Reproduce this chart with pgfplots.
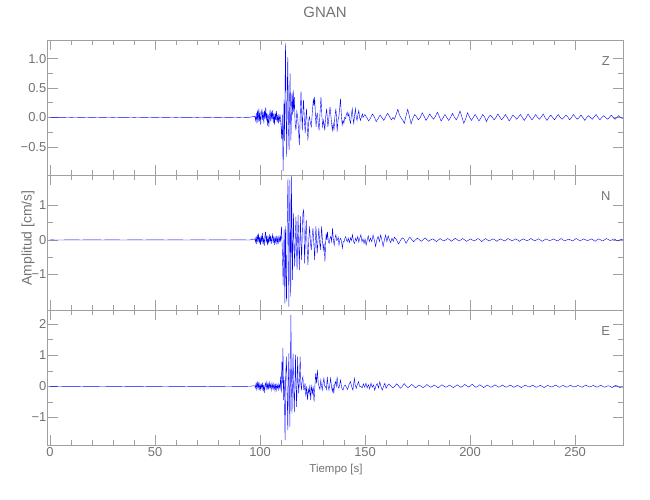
\documentclass[border=0pt]{standalone}
\usepackage{pgfplots}
\pgfplotsset{compat=1.18}
\usepackage{pgfplotstable}
\usepackage{fontspec}
\setmainfont{Liberation Sans}
\definecolor{axgray}{RGB}{160,160,160}
\definecolor{txtgray}{RGB}{115,115,115}

\pgfplotstableread{
t v
0 0
5 0.003
10 -0.002
15 0.002
20 -0.003
25 0.002
30 -0.002
35 0.003
40 -0.002
45 0.002
50 -0.003
55 0.002
60 -0.002
65 0.003
70 -0.002
75 0.002
80 -0.003
85 0.002
90 -0.002
95 0.003
97.5 0.02
97.9 -0.05
98.2 0.08
98.5 -0.10
98.8 0.12
99.1 -0.08
99.4 0.15
99.7 -0.06
100.0 0.10
100.3 -0.12
100.6 0.05
100.9 0.14
101.2 -0.04
101.5 0.09
101.8 -0.10
102.1 0.12
102.4 -0.02
102.7 0.17
103.0 -0.05
103.3 0.08
103.6 -0.14
103.9 0.05
104.2 -0.16
104.5 0.04
104.8 0.13
105.1 -0.07
105.4 0.10
105.7 -0.03
106.0 0.12
106.3 -0.09
106.6 0.06
106.9 -0.12
107.2 0.08
107.5 -0.04
107.8 0.11
108.1 -0.08
108.4 0.04
108.7 -0.10
109.0 0.06
109.3 -0.05
109.6 0.02
110.0 -0.15
110.3 -0.36
110.6 0.05
111.0 -0.91
111.4 0.30
111.7 -0.40
112.1 1.27
112.4 0.2
112.7 -0.67
113.0 0.6
113.2 1.03
113.5 -0.1
113.8 -0.56
114.0 0.2
114.3 0.75
114.5 0.1
114.7 -0.39
115.0 0.2
115.2 0.41
115.5 0.05
115.8 0.47
116.0 0.1
116.3 0.35
116.7 -0.1
117.1 -0.22
117.5 0.1
117.9 0.01
118.3 -0.2
118.7 -0.47
119.1 0.0
119.5 0.45
119.8 0.1
120.1 -0.22
120.4 0.1
120.7 0.30
121.1 -0.05
121.5 -0.27
121.8 0.0
122.1 0.15
122.5 -0.2
122.8 -0.39
123.2 -0.05
123.5 0.01
124.0 -0.10
124.4 -0.16
124.9 0.1
125.4 0.32
125.7 0.2
126.0 0.35
126.4 0.0
126.7 -0.16
127.0 0.05
127.3 0.07
127.7 -0.1
128.1 -0.22
128.5 0.05
129.0 0.35
129.4 0.05
129.8 -0.16
130.3 -0.05
130.8 -0.22
131.2 0.0
131.7 0.15
132.0 0.0
132.3 -0.16
132.8 0.0
133.3 0.18
133.8 0.0
134.4 -0.22
134.8 -0.1
135.2 -0.22
135.6 0.0
136.1 0.15
136.4 0.0
136.7 -0.24
137.1 -0.05
137.5 0.01
137.9 0.15
138.3 0.32
138.7 0.05
139.1 -0.13
139.5 -0.05
139.9 -0.10
140.3 0.0
140.7 -0.02
141.1 0.05
141.5 0.09
141.9 0.02
142.3 0.07
142.7 -0.05
143.1 -0.10
143.5 0.05
143.9 0.15
144.3 -0.02
144.6 -0.10
145.0 0.03
145.4 0.15
145.8 0.0
146.2 -0.05
146.6 0.05
147.0 0.12
147.4 0.0
147.8 -0.05
148.3 0.02
148.8 0.06
149.0 0.00
149.9 0.05
150.8 0.00
151.7 -0.06
152.6 -0.01
153.5 0.06
154.4 0.01
155.3 -0.07
156.2 -0.02
157.1 0.04
158.0 0.00
158.9 -0.05
159.8 0.01
160.7 0.07
161.6 0.02
162.5 -0.04
163.3 0.00
164.0 -0.03
164.8 0.05
165.6 0.14
166.4 0.04
167.2 -0.01
168.0 -0.05
168.7 -0.10
169.5 0.03
170.3 0.14
171.1 0.02
171.9 -0.11
172.7 -0.02
173.6 0.05
174.5 0.01
175.4 -0.04
176.3 0.00
177.2 0.08
178.1 0.02
179.0 -0.05
179.9 0.00
180.8 0.06
181.7 0.01
182.6 -0.03
183.5 0.02
184.4 0.09
185.3 0.02
186.2 -0.06
187.1 -0.01
188.0 0.05
188.9 0.00
189.8 -0.05
190.7 0.00
191.6 0.07
192.5 0.01
193.4 -0.04
194.3 0.02
195.2 0.11
196.1 0.01
197.0 -0.10
197.9 -0.02
198.8 0.08
199.7 0.01
200.6 -0.05
201.5 0.00
202.4 0.05
203.3 0.00
204.2 -0.06
205.1 -0.01
206.0 0.05
206.9 0.01
207.8 -0.07
208.7 0.00
209.6 0.04
210.5 0.01
211.4 -0.04
212.3 0.00
213.2 0.06
214.1 0.01
215.0 -0.04
215.9 0.00
216.8 0.05
217.7 0.00
218.6 -0.06
219.5 -0.01
220.4 0.04
221.3 0.01
222.2 -0.03
223.1 0.01
224.0 0.05
224.9 0.00
225.8 -0.05
226.7 0.00
227.6 0.06
228.5 0.01
229.4 -0.04
230.3 0.00
231.2 0.05
232.1 0.00
233.0 -0.03
233.9 0.01
234.8 0.06
235.7 0.00
236.6 -0.05
237.5 0.00
238.4 0.04
239.3 0.00
240.2 -0.04
241.1 0.01
242.0 0.05
242.9 0.00
243.8 -0.03
244.7 0.00
245.6 0.04
246.5 0.01
247.4 -0.04
248.3 0.00
249.2 0.05
250.1 0.01
251.0 -0.03
251.9 0.00
252.8 0.04
253.7 0.00
254.6 -0.05
255.5 0.00
256.4 0.03
257.3 0.00
258.2 -0.03
259.1 0.01
260.0 0.05
260.9 0.00
261.8 -0.04
262.7 0.00
263.6 0.03
264.5 0.00
265.4 -0.03
266.3 0.00
267.2 0.04
268.1 0.00
269.0 -0.03
269.9 0.00
270.8 0.03
271.7 0.00
272.6 -0.02
}\dataZ

\pgfplotstableread{
t v
0 0
5 -0.003
10 0.002
15 -0.002
20 0.003
25 -0.002
30 0.002
35 -0.003
40 0.002
45 -0.002
50 0.003
55 -0.002
60 0.002
65 -0.003
70 0.002
75 -0.002
80 0.003
85 -0.002
90 0.002
95 -0.003
97.5 0.03
97.8 -0.06
98.1 0.10
98.4 -0.12
98.7 0.15
99.0 -0.05
99.3 0.18
99.6 -0.10
99.9 0.08
100.2 -0.15
100.5 0.12
100.8 -0.06
101.1 0.20
101.4 -0.12
101.7 0.06
102.0 -0.17
102.3 0.10
102.6 0.24
102.9 -0.08
103.2 0.14
103.5 -0.15
103.8 0.05
104.1 -0.10
104.4 0.16
104.7 -0.05
105.0 0.12
105.3 -0.12
105.6 0.04
105.9 0.15
106.2 -0.08
106.5 0.10
106.8 -0.14
107.1 0.06
107.4 -0.06
107.7 0.12
108.0 -0.10
108.3 0.05
108.6 -0.12
108.9 0.08
109.2 -0.04
109.5 0.10
109.8 -0.05
110.2 0.39
110.6 -0.3
111.0 -1.30
111.3 -0.2
111.5 0.3
111.8 -1.84
112.1 0.4
112.4 -1.2
112.6 -1.79
112.9 0.2
113.1 1.11
113.3 1.79
113.5 0.0
113.7 -1.93
113.9 -0.5
114.2 1.74
114.4 0.3
114.6 -1.64
114.8 0.0
115.0 1.84
115.2 0.2
115.4 -1.16
115.6 -0.3
115.9 0.77
116.2 -0.2
116.5 -0.77
116.8 0.1
117.1 0.68
117.3 -0.1
117.6 -0.87
117.9 0.1
118.1 0.72
118.4 -0.1
118.7 -0.87
119.0 0.1
119.2 0.68
119.5 -0.1
119.8 -0.58
120.1 0.2
120.4 0.77
120.8 0.87
121.2 -0.68
121.6 0.1
122.0 0.58
122.4 -0.2
122.8 -0.72
123.2 0.0
123.6 0.39
124.0 -0.1
124.4 -0.29
124.8 0.1
125.2 0.34
125.6 -0.1
126.0 -0.58
126.3 0.0
126.6 0.39
126.9 0.0
127.2 -0.39
127.6 0.0
128.0 0.34
128.3 0.0
128.7 -0.29
129.0 0.0
129.3 0.39
129.7 0.0
130.1 -0.29
130.5 -0.1
130.9 -0.63
131.2 -0.1
131.5 0.19
131.8 0.0
132.1 0.24
132.5 -0.05
132.9 -0.10
133.3 0.05
133.7 0.10
134.1 -0.05
134.5 0.34
134.9 0.0
135.3 -0.15
135.7 0.05
136.1 0.15
136.5 -0.02
136.8 0.00
137.2 0.08
137.6 -0.15
138.0 0.0
138.4 0.05
138.8 -0.05
139.2 -0.24
139.6 -0.05
140.0 -0.05
140.4 0.05
140.8 0.10
141.2 -0.02
141.6 -0.05
142.0 0.05
142.5 -0.08
143.0 0.06
143.5 -0.02
144.0 0.15
144.5 -0.05
145.0 -0.10
145.5 0.05
146.0 -0.03
146.5 0.10
147.0 -0.06
147.5 0.05
148.0 0.15
148.5 -0.05
149.0 0.03
149.5 -0.10
150.0 0.02
150.5 -0.15
151.0 0.0
151.5 0.12
152.0 -0.05
152.6 0.05
153.2 -0.05
153.8 0.14
154.4 0.0
155.0 -0.19
155.6 0.0
156.2 0.10
156.8 -0.05
157.4 0.14
158.0 0.0
158.6 -0.19
159.2 0.0
159.8 0.14
160.4 -0.05
161.0 0.12
161.6 0.0
162.2 -0.08
162.8 0.05
163.4 -0.04
164.0 0.08
165.0 0.00
165.9 -0.12
166.8 -0.02
167.7 0.06
168.6 0.02
169.5 -0.10
170.4 0.00
171.3 0.08
172.2 0.01
173.1 -0.05
174.0 0.00
174.9 0.05
175.8 0.01
176.7 -0.04
177.6 0.00
178.5 0.06
179.4 0.01
180.3 -0.04
181.2 0.00
182.1 0.03
183.0 0.00
183.9 -0.05
184.8 -0.01
185.7 0.04
186.6 0.00
187.5 -0.03
188.4 0.00
189.3 0.04
190.2 0.01
191.1 -0.04
192.0 0.00
192.9 0.05
193.8 0.01
194.7 -0.03
195.6 0.00
196.5 0.04
197.4 0.00
198.3 -0.04
199.2 -0.01
200.1 0.03
201.0 0.00
201.9 -0.03
202.8 0.00
203.7 0.04
204.6 0.01
205.5 -0.05
206.4 0.00
207.3 0.04
208.2 0.00
209.1 -0.03
210.0 0.00
210.9 0.03
211.8 0.00
212.7 -0.04
213.6 0.00
214.5 0.03
215.4 0.00
216.3 -0.03
217.2 0.00
218.1 0.04
219.0 0.01
219.9 -0.03
220.8 0.00
221.7 0.03
222.6 0.00
223.5 -0.04
224.4 0.00
225.3 0.03
226.2 0.00
227.1 -0.02
228.0 0.00
228.9 0.04
229.8 0.01
230.7 -0.03
231.6 0.00
232.5 0.03
233.4 0.00
234.3 -0.04
235.2 -0.01
236.1 0.03
237.0 0.00
237.9 -0.02
238.8 0.00
239.7 0.03
240.6 0.00
241.5 -0.03
242.4 0.00
243.3 0.04
244.2 0.00
245.1 -0.03
246.0 0.00
246.9 0.02
247.8 0.00
248.7 -0.03
249.6 0.00
250.5 0.04
251.4 0.01
252.3 -0.03
253.2 0.00
254.1 0.03
255.0 0.00
255.9 -0.02
256.8 0.00
257.7 0.03
258.6 0.00
259.5 -0.04
260.4 0.00
261.3 0.03
262.2 0.00
263.1 -0.03
264.0 0.00
264.9 0.04
265.8 0.01
266.7 -0.02
267.6 0.00
268.5 0.03
269.4 0.00
270.3 -0.03
271.2 0.00
272.1 0.02
272.7 0.00
}\dataN

\pgfplotstableread{
t v
0 0
5 0.002
10 -0.003
15 0.002
20 -0.002
25 0.003
30 -0.002
35 0.002
40 -0.003
45 0.002
50 -0.002
55 0.003
60 -0.002
65 0.002
70 -0.003
75 0.002
80 -0.002
85 0.003
90 -0.002
95 0.002
97.5 0.02
97.8 -0.05
98.1 0.10
98.4 -0.08
98.7 0.15
99.0 -0.06
99.3 0.10
99.6 -0.12
99.9 0.08
100.2 -0.10
100.5 0.06
100.8 -0.05
101.1 0.12
101.4 -0.15
101.7 0.05
102.0 -0.22
102.3 0.03
102.6 0.10
102.9 -0.08
103.2 0.12
103.5 -0.06
103.8 0.09
104.1 -0.10
104.4 0.12
104.7 -0.04
105.0 0.06
105.3 -0.12
105.6 0.08
105.9 -0.05
106.2 0.10
106.5 -0.08
106.8 0.04
107.1 -0.14
107.4 0.06
107.7 -0.12
108.0 0.05
108.3 -0.06
108.6 0.08
108.9 -0.10
109.2 0.04
109.5 -0.05
109.8 0.31
110.1 -0.2
110.4 0.80
110.6 0.1
110.9 1.23
111.2 -0.44
111.5 0.2
111.9 -1.73
112.2 0.3
112.5 0.96
112.8 0.2
113.2 -1.41
113.4 -0.2
113.7 1.06
113.9 0.1
114.2 -1.30
114.4 0.0
114.7 2.30
114.9 0.3
115.2 -0.87
115.4 0.0
115.7 1.06
116.0 0.0
116.3 -0.82
116.6 0.1
116.9 1.01
117.1 0.1
117.4 -0.66
117.6 0.0
117.9 0.96
118.1 0.2
118.4 -0.23
118.8 0.3
119.1 0.96
119.4 0.1
119.7 -0.12
120.0 0.2
120.4 0.31
120.7 -0.1
121.0 -0.12
121.4 0.1
121.8 -0.33
122.2 0.0
122.6 -0.44
123.0 -0.1
123.4 -0.23
123.7 0.05
124.1 -0.44
124.5 0.0
125.0 -0.23
125.3 0.0
125.7 -0.49
126.1 0.0
126.5 0.42
126.9 0.1
127.3 0.53
127.7 0.1
128.1 -0.01
128.5 -0.1
128.9 0.20
129.3 0.0
129.6 -0.12
130.0 0.1
130.4 0.26
130.8 0.0
131.2 -0.01
131.6 -0.1
132.0 0.31
132.4 0.0
132.8 -0.12
133.2 0.05
133.6 0.26
134.0 0.0
134.4 -0.17
134.8 0.0
135.1 -0.23
135.5 0.05
135.9 0.15
136.3 0.0
136.7 0.31
137.1 0.0
137.5 -0.06
137.9 0.05
138.3 0.20
138.9 -0.05
139.5 -0.12
140.0 0.0
140.6 0.04
141.1 -0.03
141.7 -0.10
142.3 0.05
143.0 0.15
143.6 0.0
144.2 -0.12
144.9 0.26
145.3 0.05
145.8 -0.06
146.3 0.05
146.9 0.15
147.4 0.0
148.0 0.0
148.6 -0.05
149.2 0.08
149.8 -0.03
150.4 0.10
151.0 -0.05
151.6 0.05
152.2 -0.08
152.8 0.10
153.4 -0.03
154.0 0.05
154.6 -0.12
155.2 0.02
155.8 0.09
156.4 -0.05
157.0 0.15
157.6 -0.02
158.2 -0.12
158.8 0.0
159.4 0.10
160.0 -0.06
160.6 0.02
161.4 0.08
162.3 0.01
163.2 -0.05
164.1 0.00
165.0 0.08
165.9 0.02
166.8 -0.06
167.7 0.00
168.6 0.09
169.5 0.01
170.4 -0.04
171.3 0.00
172.2 0.06
173.1 0.01
174.0 -0.05
174.9 0.00
175.8 0.04
176.7 0.00
177.6 -0.04
178.5 0.00
179.4 0.06
180.3 0.01
181.2 -0.03
182.1 0.00
183.0 0.04
183.9 0.00
184.8 -0.05
185.7 0.00
186.6 0.05
187.5 0.01
188.4 -0.03
189.3 0.00
190.2 0.04
191.1 0.00
192.0 -0.04
192.9 0.00
193.8 0.05
194.7 0.01
195.6 -0.03
196.5 0.00
197.4 0.06
198.3 0.02
199.2 -0.02
200.1 0.01
201.0 0.07
201.9 0.01
202.8 -0.03
203.7 0.00
204.6 0.05
205.5 0.01
206.4 -0.04
207.3 0.00
208.2 0.04
209.1 0.00
210.0 -0.03
210.9 0.00
211.8 0.05
212.7 0.01
213.6 -0.03
214.5 0.00
215.4 0.04
216.3 0.00
217.2 -0.03
218.1 0.00
219.0 0.04
219.9 0.01
220.8 -0.03
221.7 0.00
222.6 0.03
223.5 0.00
224.4 -0.04
225.3 0.00
226.2 0.04
227.1 0.01
228.0 -0.02
228.9 0.00
229.8 0.04
230.7 0.00
231.6 -0.03
232.5 0.00
233.4 0.03
234.3 0.00
235.2 -0.04
236.1 0.00
237.0 0.03
237.9 0.00
238.8 -0.02
239.7 0.00
240.6 0.04
241.5 0.01
242.4 -0.03
243.3 0.00
244.2 0.03
245.1 0.00
246.0 -0.03
246.9 0.00
247.8 0.04
248.7 0.00
249.6 -0.02
250.5 0.00
251.4 0.03
252.3 0.00
253.2 -0.03
254.1 0.00
255.0 0.04
255.9 0.01
256.8 -0.02
257.7 0.00
258.6 0.03
259.5 0.00
260.4 -0.03
261.3 0.00
262.2 0.04
263.1 0.00
264.0 -0.03
264.9 0.00
265.8 0.02
266.7 0.00
267.6 -0.04
268.5 0.00
269.4 0.03
270.3 0.00
271.2 -0.04
272.1 -0.02
272.7 -0.03
}\dataE

\pgfplotsset{
  seis/.style={
    scale only axis,
    width=575.5bp, height=135bp,
    anchor=south west,
    xmin=-1.2, xmax=272.8,
    axis line style={axgray, line width=0.6bp},
    every tick/.style={axgray, line width=0.6bp},
    tick align=inside,
    major tick length=10bp,
    minor tick length=5bp,
    xtick={0,50,100,150,200,250},
    minor x tick num=4,
    xticklabels={},
    ticklabel style={text=txtgray, font=\fontsize{13}{15}\selectfont},
    yticklabel style={inner xsep=1bp},
    xticklabel style={inner ysep=2bp},
    clip=true,
  }
}

\begin{document}
\begin{tikzpicture}
\path[use as bounding box] (0,0) rectangle (650bp,500bp);

% Z
\begin{axis}[seis, at={(47.5bp,325bp)},
  ymin=-0.98, ymax=1.32,
  ytick={-0.5,0,0.5,1}, yticklabels={−0.5,0.0,0.5,1.0},
  minor y tick num=1]
\addplot[blue, line width=0.4bp] table[x=t,y=v] {\dataZ};
\node[text=txtgray, font=\fontsize{13}{15}\selectfont] at (rel axis cs:0.970,0.844) {Z};
\end{axis}

% N
\begin{axis}[seis, at={(47.5bp,190bp)},
  ymin=-2.03, ymax=1.88,
  ytick={-1,0,1}, yticklabels={−1,0,1},
  minor y tick num=1]
\addplot[blue, line width=0.4bp] table[x=t,y=v] {\dataN};
\node[text=txtgray, font=\fontsize{13}{15}\selectfont] at (rel axis cs:0.970,0.844) {N};
\end{axis}

% E
\begin{axis}[seis, at={(47.5bp,55bp)},
  ymin=-1.89, ymax=2.46,
  ytick={-1,0,1,2}, yticklabels={−1,0,1,2},
  minor y tick num=1,
  xticklabels={0,50,100,150,200,250}]
\addplot[blue, line width=0.4bp] table[x=t,y=v] {\dataE};
\node[text=txtgray, font=\fontsize{13}{15}\selectfont] at (rel axis cs:0.970,0.844) {E};
\end{axis}

\node[text=txtgray, font=\fontsize{15}{17}\selectfont] at (325bp,488bp) {GNAN};
\node[text=txtgray, font=\fontsize{14}{16}\selectfont, rotate=90] at (28bp,262bp) {Amplitud [cm/s]};
\node[text=txtgray, font=\fontsize{11.5}{14}\selectfont] at (336bp,30bp) {Tiempo [s]};
\end{tikzpicture}
\end{document}
